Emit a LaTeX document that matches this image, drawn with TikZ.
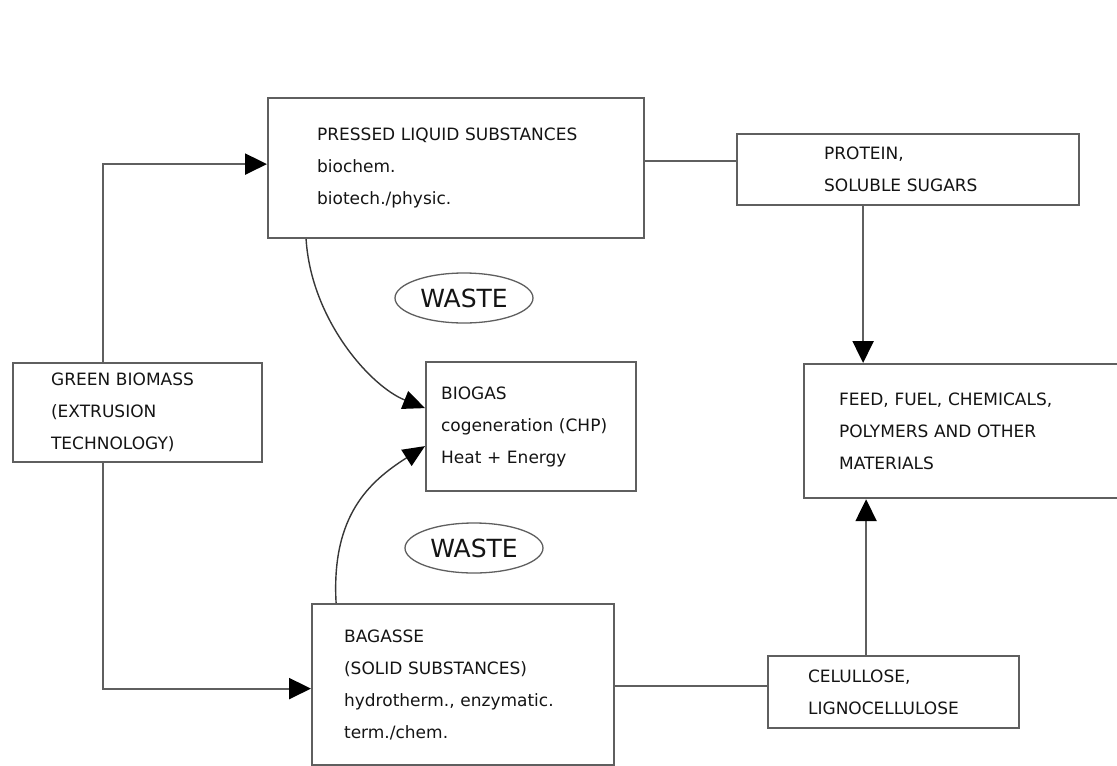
\documentclass[tikz,border=0pt]{standalone}
\usepackage{fontspec}
\setmainfont{DejaVu Sans}
\usetikzlibrary{arrows.meta,shapes.geometric}
\definecolor{linegray}{RGB}{95,95,95}
\definecolor{curvegray}{RGB}{55,55,55}
\definecolor{txt}{RGB}{20,20,20}
\newcommand\boxfont{\fontsize{17}{32}\selectfont}
\newcommand\wastefont{\fontsize{25}{30}\selectfont}
\tikzset{
  box/.style={draw=linegray, line width=2.2pt, anchor=north west, align=left, inner ysep=0pt, text=txt, font=\boxfont},
  waste/.style={ellipse, draw=linegray, line width=1.3pt, minimum width=138pt, minimum height=50pt, inner sep=0pt, text=txt, font=\wastefont},
  link/.style={draw=linegray, line width=2.2pt},
  flow/.style={link, -{Triangle[length=22pt,width=21pt,color=black]}},
  curvearrow/.style={draw=curvegray, line width=1.4pt, -{Triangle[length=22pt,width=19pt,color=black]}}
}
\begin{document}
\begin{tikzpicture}[x=1pt,y=-1pt]
	\useasboundingbox (0,0) rectangle (1117,766);
	\node[box, text width=278pt, inner xsep=49pt, minimum height=140pt] (pressed) at (267,97) {PRESSED LIQUID SUBSTANCES\\biochem.\\biotech./physic.};
	\node[box, text width=168pt, inner xsep=87pt, minimum height=71pt] (protein) at (736,133) {PROTEIN,\\SOLUBLE SUGARS};
	\node[box, text width=173pt, inner xsep=38pt, minimum height=99pt] (green) at (12,362) {GREEN BIOMASS\\(EXTRUSION\\TECHNOLOGY)};
	\node[box, text width=180pt, inner xsep=15pt, minimum height=129pt] (biogas) at (425,361) {BIOGAS\\cogeneration (CHP)\\Heat + Energy};
	\node[box, text width=247pt, inner xsep=35pt, minimum height=134pt] (feed) at (803,363) {FEED, FUEL, CHEMICALS,\\POLYMERS AND OTHER\\MATERIALS};
	\node[box, text width=238pt, inner xsep=32pt, minimum height=161pt] (bagasse) at (311,603) {BAGASSE\\(SOLID SUBSTANCES)\\hydrotherm., enzymatic.\\term./chem.};
	\node[box, text width=171pt, inner xsep=40pt, minimum height=72pt] (cellulose) at (767,655) {CELULLOSE,\\LIGNOCELLULOSE};
	\node[waste] (waste1) at (464,298) {WASTE};
	\node[waste] (waste2) at (474,548) {WASTE};

	\draw[flow] ([xshift=-34.5pt]green.north) |- ([yshift=4pt]pressed.west);
	\draw[flow] ([xshift=-34.5pt]green.south) |- ([yshift=-4pt]bagasse.west);
	\draw[link] ([yshift=9pt]protein.west) -- ([yshift=9pt]protein.west -| pressed.east);
	\draw[flow] ([xshift=-45pt]protein.south) -- ([xshift=-45pt]protein.south |- feed.north);
	\draw[link] ([yshift=6pt]cellulose.west) -- ([yshift=6pt]cellulose.west -| bagasse.east);
	\draw[flow] ([xshift=-27.5pt]cellulose.north) -- ([xshift=-27.5pt]cellulose.north |- feed.south);
	\draw[curvearrow] ([xshift=-150pt]pressed.south) .. controls +(5,80) and +(-55,-22) .. ([yshift=18.5pt]biogas.west);
	\draw[curvearrow] ([xshift=-127pt]bagasse.north) .. controls +(-5,-88) and +(-55,35) .. ([yshift=-19.5pt]biogas.west);
\end{tikzpicture}
\end{document}
